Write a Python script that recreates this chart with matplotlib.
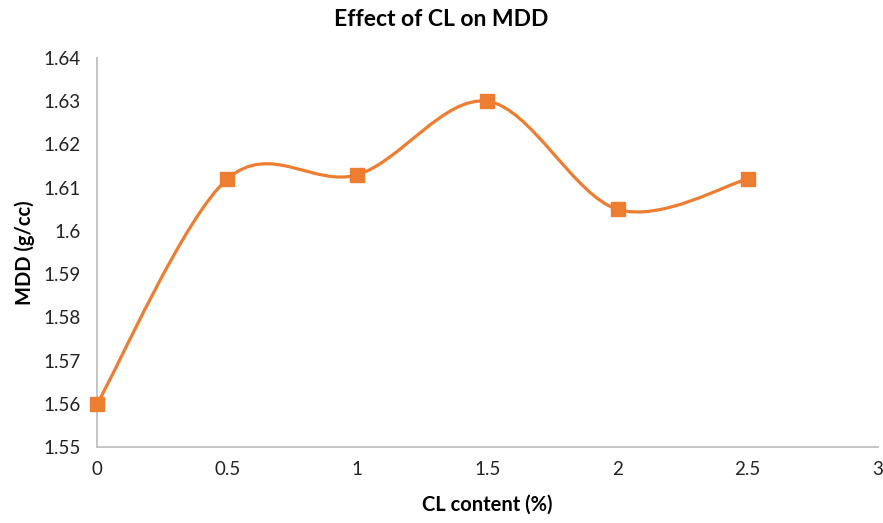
import matplotlib.pyplot as plt
from matplotlib.path import Path
from matplotlib.patches import PathPatch

plt.rcParams['font.family'] = ['Lato', 'DejaVu Sans']

cl_content = [0, 0.5, 1, 1.5, 2, 2.5]
mdd = [1.56, 1.612, 1.613, 1.63, 1.605, 1.612]
x_ticks = [0, 0.5, 1, 1.5, 2, 2.5, 3]
x_tick_labels = ['0', '0.5', '1', '1.5', '2', '2.5', '3']
y_ticks = [1.55, 1.56, 1.57, 1.58, 1.59, 1.6, 1.61, 1.62, 1.63, 1.64]
y_tick_labels = ['1.55', '1.56', '1.57', '1.58', '1.59', '1.6', '1.61', '1.62', '1.63', '1.64']

orange = '#ED7D31'
grey = '#BFBFBF'


def smooth_path(xs, ys):
    # excel style smoothed line: cubic bezier through every point
    pts = list(zip(xs, ys))
    verts = [pts[0]]
    codes = [Path.MOVETO]
    n = len(pts)
    for i in range(n - 1):
        p0 = pts[i - 1] if i > 0 else pts[i]
        p1 = pts[i]
        p2 = pts[i + 1]
        p3 = pts[i + 2] if i + 2 < n else pts[i + 1]
        c1 = (p1[0] + (p2[0] - p0[0]) / 6, p1[1] + (p2[1] - p0[1]) / 6)
        c2 = (p2[0] - (p3[0] - p1[0]) / 6, p2[1] - (p3[1] - p1[1]) / 6)
        verts += [c1, c2, p2]
        codes += [Path.CURVE4] * 3
    return Path(verts, codes)


fig = plt.figure(figsize=(8.83, 5.23), dpi=100)
ax = fig.add_axes([0.11, 0.1453, 0.884, 0.7437])

ax.add_patch(PathPatch(smooth_path(cl_content, mdd), facecolor='none',
                       edgecolor=orange, lw=2.3, zorder=2))
ax.plot(cl_content, mdd, ls='none', marker='s', ms=10.5, color=orange,
        zorder=3, clip_on=False)

ax.set_xlim(0, 3)
ax.set_ylim(1.55, 1.64)
ax.set_xticks(x_ticks)
ax.set_xticklabels(x_tick_labels)
ax.set_yticks(y_ticks)
ax.set_yticklabels(y_tick_labels)
ax.tick_params(length=0, labelsize=13.5, colors='#222222', pad=10)
ax.tick_params(axis='y', pad=12)

for side in ['top', 'right']:
    ax.spines[side].set_visible(False)
for side in ['left', 'bottom']:
    ax.spines[side].set_color(grey)
    ax.spines[side].set_linewidth(1.3)

fig.text(0.5, 0.962, 'Effect of CL on MDD', fontsize=16.5, fontweight='bold',
         ha='center', va='center')
ax.set_xlabel('CL content (%)', fontsize=14.5, fontweight='bold', labelpad=12)
ax.set_ylabel('MDD (g/cc)', fontsize=14.5, fontweight='bold', labelpad=6)

plt.savefig('out.png')
plt.close()
